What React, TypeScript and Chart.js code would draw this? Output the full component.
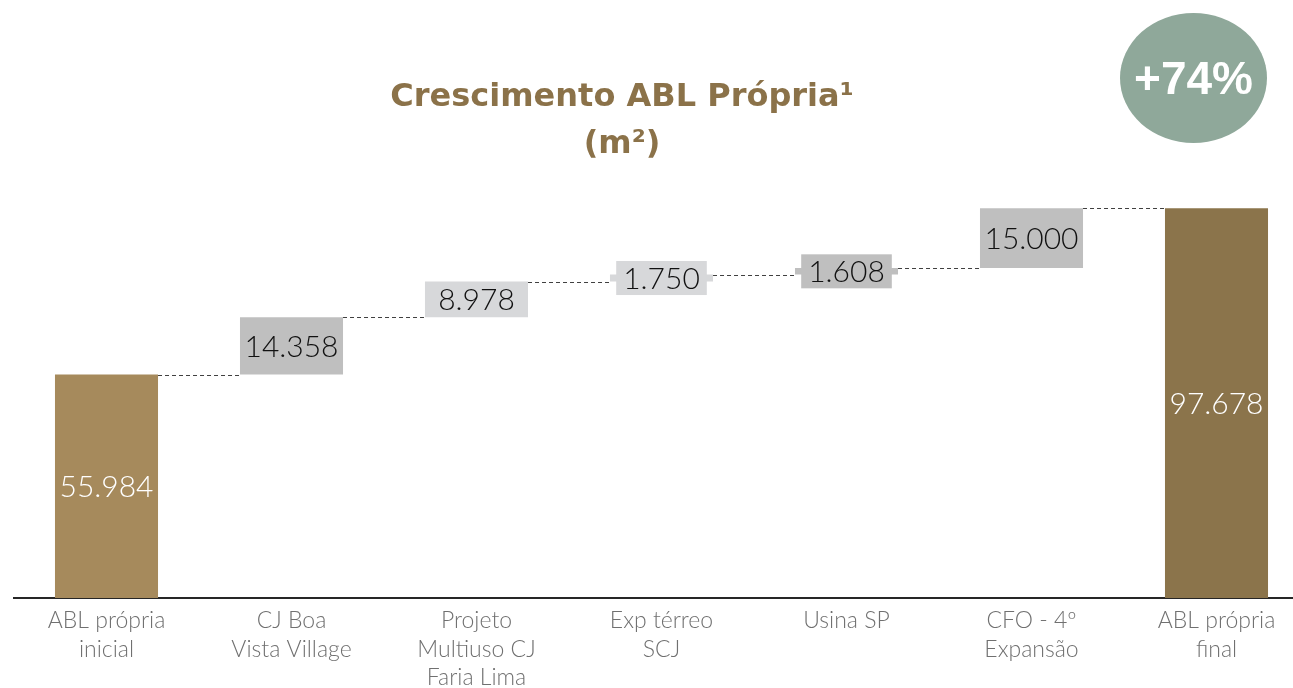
import React, { useEffect, useRef } from "react";
import { Chart, registerables } from "chart.js";

Chart.register(...registerables);

const categories: string[][] = [
  ["ABL própria", "inicial"],
  ["CJ Boa", "Vista Village"],
  ["Projeto", "Multiuso CJ", "Faria Lima"],
  ["Exp térreo", "SCJ"],
  ["Usina SP"],
  ["CFO - 4º", "Expansão"],
  ["ABL própria", "final"],
];
const stepValues: number[] = [55984, 14358, 8978, 1750, 1608, 15000, 97678];
const isTotal: boolean[] = [true, false, false, false, false, false, true];
const barColors: string[] = ["#a68a5c", "#bfbfbf", "#d7d8da", "#d7d8da", "#bfbfbf", "#bfbfbf", "#8b744b"];
const labelColors: string[] = ["#ffffff", "#111111", "#111111", "#111111", "#111111", "#111111", "#ffffff"];

const ranges: [number, number][] = [];
const tops: number[] = [];
{
  let run = 0;
  stepValues.forEach((v, i) => {
    if (isTotal[i]) {
      ranges.push([0, v]);
      run = v;
    } else {
      ranges.push([run, run + v]);
      run += v;
    }
    tops.push(run);
  });
}

const fmt = (n: number) => String(n).replace(/\B(?=(\d{3})+(?!\d))/g, ".");

const LABEL_FONT = "300 30px Lato, 'Open Sans', sans-serif";

const waterfallPlugin = {
  id: "waterfallDeco",
  afterDatasetsDraw(chart: any) {
    const ctx = chart.ctx as CanvasRenderingContext2D;
    const meta = chart.getDatasetMeta(0);
    const y = chart.scales.y;
    ctx.save();
    // connectors
    ctx.strokeStyle = "#404040";
    ctx.lineWidth = 1;
    ctx.setLineDash([4, 3]);
    for (let i = 0; i < meta.data.length - 1; i++) {
      const a = meta.data[i];
      const b = meta.data[i + 1];
      const py = Math.round(y.getPixelForValue(tops[i])) + 0.5;
      ctx.beginPath();
      ctx.moveTo(a.x + a.width / 2, py);
      ctx.lineTo(b.x - b.width / 2, py);
      ctx.stroke();
    }
    ctx.setLineDash([]);
    // labels
    ctx.font = LABEL_FONT;
    ctx.textAlign = "center";
    ctx.textBaseline = "middle";
    meta.data.forEach((el: any, i: number) => {
      const cy = (el.y + el.base) / 2;
      const text = fmt(stepValues[i]);
      const tw = ctx.measureText(text).width;
      const boxH = 34;
      const h = Math.abs(el.base - el.y);
      if (h < boxH) {
        const bw = tw + 14;
        ctx.fillStyle = barColors[i];
        ctx.fillRect(el.x - bw / 2, cy - boxH / 2, bw, boxH);
      }
      ctx.fillStyle = labelColors[i];
      ctx.fillText(text, el.x, cy + 1);
    });
    ctx.restore();
  },
};

export default function App() {
  const canvasRef = useRef<HTMLCanvasElement | null>(null);

  useEffect(() => {
    document.body.style.margin = "0";
    const canvas = canvasRef.current!;
    const chart = new Chart(canvas, {
      type: "bar",
      data: {
        labels: categories,
        datasets: [
          {
            data: ranges as any,
            backgroundColor: barColors,
            borderWidth: 0,
            categoryPercentage: 1,
            barPercentage: 0.557,
          },
        ],
      },
      options: {
        responsive: false,
        animation: false,
        layout: { padding: { left: 14, right: 11, top: 199, bottom: 0 } },
        plugins: {
          legend: { display: false },
          tooltip: { enabled: false },
          title: { display: false },
        },
        scales: {
          x: {
            grid: { display: false, drawTicks: false },
            border: { display: true, color: "#262626", width: 2 },
            ticks: {
              color: "#707070",
              font: { family: "Lato, 'Open Sans', sans-serif", size: 23, weight: "300", lineHeight: 1.22 },
              padding: 9,
              maxRotation: 0,
              minRotation: 0,
              autoSkip: false,
            },
            afterFit: (s: any) => {
              s.height = 90;
            },
          },
          y: {
            display: false,
            min: 0,
            max: 100000,
          },
        },
      },
      plugins: [waterfallPlugin],
    });
    return () => chart.destroy();
  }, []);

  return (
    <div
      style={{
        position: "fixed",
        left: 0,
        top: 0,
        width: 1293,
        height: 688,
        overflow: "hidden",
        background: "#ffffff",
      }}
    >
      <canvas
        ref={canvasRef}
        width={1320}
        height={688}
        style={{ position: "absolute", left: 0, top: 0, width: 1320, height: 688 }}
      />
      <div
        style={{
          position: "absolute",
          left: 622 - 320,
          width: 640,
          top: 72,
          textAlign: "center",
          color: "#8b7249",
          fontFamily: "'DejaVu Sans', sans-serif",
          fontWeight: 700,
          fontSize: 32,
          lineHeight: "47px",
        }}
      >
        Crescimento ABL Própria¹
        <br />
        (m²)
      </div>
      <div
        style={{
          position: "absolute",
          left: 1120,
          top: 13,
          width: 147,
          height: 130,
          borderRadius: "50%",
          background: "#8fa89a",
          color: "#ffffff",
          display: "flex",
          alignItems: "center",
          justifyContent: "center",
          fontFamily: "'Liberation Sans', Arial, sans-serif",
          fontWeight: 700,
          fontSize: 46,
        }}
      >
        +74%
      </div>
    </div>
  );
}
